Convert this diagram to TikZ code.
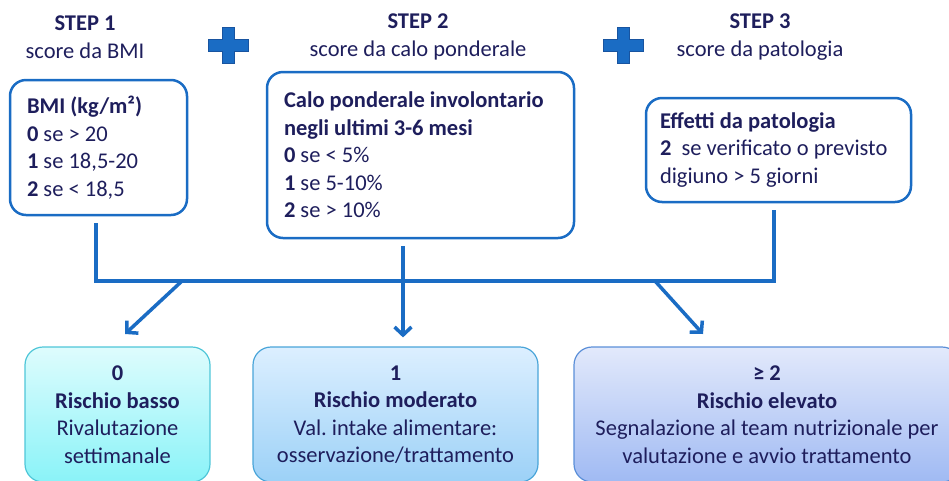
\documentclass[tikz,border=0pt]{standalone}
\usepackage{fontspec}
\setmainfont{Carlito}
\usetikzlibrary{arrows.meta}
\frenchspacing

\definecolor{navytext}{RGB}{30,30,92}
\definecolor{flowblue}{RGB}{26,108,196}
\definecolor{plusedge}{RGB}{24,84,160}

\tikzset{every picture/.style={line width=0.75pt},
  steptitle/.style={align=flush center,text=navytext,inner sep=0pt,font=\fontsize{22.5}{27.5}\selectfont},
  scorebox/.style={draw=flowblue,line width=2.5pt,rounded corners=16pt,align=flush left,text=navytext,inner ysep=0pt,font=\fontsize{22.5}{27.5}\selectfont},
  riskbox/.style={rounded corners=18pt,line width=1.2pt,align=flush center,text=navytext,inner sep=0pt,minimum height=135pt,font=\fontsize{22.5}{27.5}\selectfont},
  flowline/.style={draw=flowblue,line width=3.5pt},
  flowarrow/.style={flowline,-{Straight Barb[length=8pt,width=17pt,line width=3.5pt]}}}

\begin{document}
\begin{tikzpicture}[x=1pt,y=1pt,yscale=-1,xscale=1]
\useasboundingbox (0,0) rectangle (949,480);

% Titles
\node [steptitle] (s1) at (85,37) {\textbf{STEP 1}\\score da BMI};
\node [steptitle] (s2) at (418,37) {\textbf{STEP 2}\\score da calo ponderale};
\node [steptitle] (s3) at (760,37) {\textbf{STEP 3}\\score da patologia};

% Plus signs
\foreach \px in {228,623}
  \draw [draw=plusedge,fill=flowblue,line width=1pt,shift={(\px,45)}]
    (-6,-18) -- (6,-18) -- (6,-6) -- (20,-6) -- (20,6) -- (6,6) -- (6,18) -- (-6,18) -- (-6,6) -- (-20,6) -- (-20,-6) -- (-6,-6) -- cycle ;

% Score boxes
\node [scorebox,inner xsep=17pt,text width=143pt,minimum height=135pt] (b1) at (98.5,147.5)
  {\textbf{BMI (kg/m²)}\\\textbf{0} se > 20\\\textbf{1} se 18,5-20\\\textbf{2} se < 18,5};
\node [scorebox,inner xsep=17pt,text width=273pt,minimum height=166pt] (b2) at (420.5,155)
  {\textbf{Calo ponderale involontario}\\\textbf{negli ultimi 3-6 mesi}\\\textbf{0} se < 5\%\\\textbf{1} se 5-10\%\\\textbf{2} se > 10\%};
\node [scorebox,inner xsep=14pt,text width=237pt,minimum height=104pt] (b3) at (778.5,150)
  {\textbf{Effetti da patologia}\\\textbf{2}\ \ se verificato o previsto\\digiuno > 5 giorni};

% Risk boxes
\node [riskbox,draw={rgb,255:red,79;green,198;blue,216},top color={rgb,255:red,222;green,252;blue,253},bottom color={rgb,255:red,138;green,243;blue,248},minimum width=185pt] (r0) at (117.5,414.5)
  {\textbf{0}\\\textbf{Rischio basso}\\Rivalutazione\\settimanale};
\node [riskbox,draw={rgb,255:red,74;green,165;blue,217},top color={rgb,255:red,220;green,239;blue,255},bottom color={rgb,255:red,156;green,209;blue,247},minimum width=285pt] (r1) at (395.5,414.5)
  {\textbf{1}\\\textbf{Rischio moderato}\\Val. intake alimentare:\\osservazione/trattamento};
\node [riskbox,draw={rgb,255:red,91;green,143;blue,216},top color={rgb,255:red,226;green,233;blue,251},bottom color={rgb,255:red,160;green,186;blue,243},minimum width=386pt] (r2) at (767,414.5)
  {\textbf{≥ 2}\\\textbf{Rischio elevato}\\Segnalazione al team nutrizionale per\\valutazione e avvio trattamento};

% Bus line
\coordinate (j0) at (96,281);
\coordinate (j1) at (182,281);
\coordinate (j2) at (403,281);
\coordinate (j3) at (655,281);
\coordinate (j4) at (774,281);
\coordinate (t0) at (125,334);
\coordinate (t2) at (703,334);
\draw [flowline,line join=miter] ([xshift=-2.5pt,yshift=7pt]b1.south) -- ([xshift=-2.5pt]b1.south |- j0) -- (j4) -- ([xshift=-4.5pt,yshift=7pt]b3.south);
\draw [flowline] ([yshift=7pt]b2.south -| j2) -- (j2);

% Arrows
\draw [flowarrow] (j1) -- (t0);
\draw [flowarrow] (j2) -- ([yshift=-9pt]r1.north -| j2);
\draw [flowarrow] (j3) -- (t2);

\end{tikzpicture}
\end{document}
